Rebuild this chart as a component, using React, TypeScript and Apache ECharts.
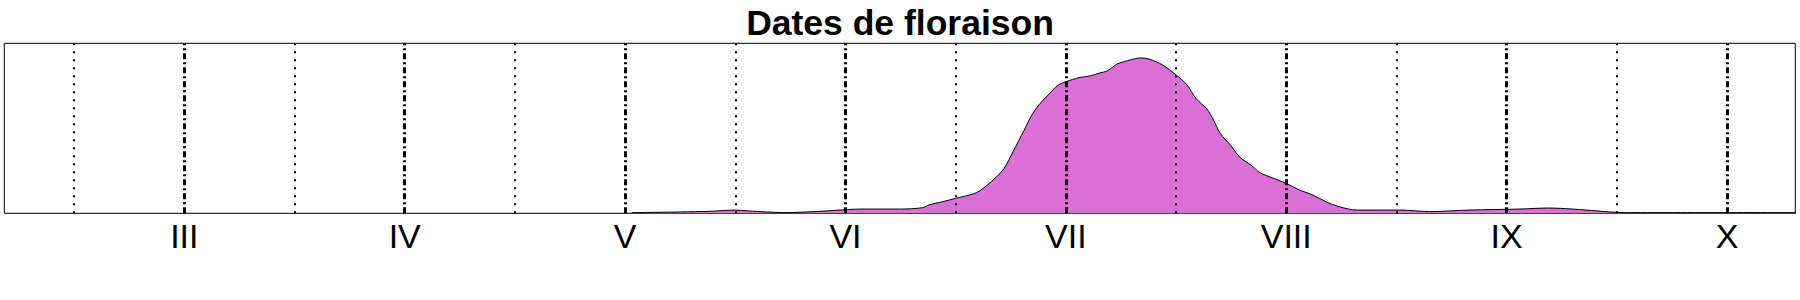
import React, { useEffect, useRef } from "react";
import * as echarts from "echarts";

// Month positions (months as continuous values, 3 = March ... 10 = October)
const monthTicks = [3, 4, 5, 6, 7, 8, 9, 10];
const monthLabels = ["III", "IV", "V", "VI", "VII", "VIII", "IX", "X"];
const halfMonthLines = [2.5, 3.5, 4.5, 5.5, 6.5, 7.5, 8.5, 9.5];

// Density curve of flowering dates (x in months, y relative density 0..100)
const dateX = [
  5.03, 5.25, 5.39, 5.5, 5.56, 5.64, 5.73, 5.82, 5.89, 5.96,
  6.07, 6.25, 6.35, 6.38, 6.44, 6.5, 6.58, 6.61, 6.67, 6.72,
  6.76, 6.81, 6.85, 6.89, 6.93, 6.96, 7.0, 7.06, 7.11, 7.15,
  7.19, 7.23, 7.28, 7.34, 7.38, 7.44, 7.5, 7.55, 7.59, 7.64,
  7.67, 7.7, 7.75, 7.79, 7.84, 7.88, 7.93, 8.0, 8.06, 8.12,
  8.18, 8.24, 8.32, 8.52, 8.65, 8.83, 9.06, 9.19, 9.3, 9.36,
  9.41, 9.47, 9.54, 10.31,
];
const density = [
  0.4, 0.8, 1.2, 1.9, 1.4, 0.8, 0.4, 0.8, 1.2, 1.8,
  2.5, 2.5, 3.3, 5.0, 6.8, 8.8, 11.4, 13.3, 19.6, 26.5,
  36.2, 48.7, 58.8, 65.6, 70.9, 74.9, 77.4, 79.8, 80.8, 82.4,
  83.9, 87.6, 89.8, 91.4, 90.6, 87.2, 81.4, 75.5, 67.6, 61.4,
  54.9, 47.1, 39.6, 32.9, 28.4, 23.9, 21.2, 17.6, 13.7, 10.8,
  6.8, 3.9, 1.9, 1.9, 1.0, 1.9, 2.5, 3.1, 2.5, 1.9,
  1.4, 0.8, 0.4, 0.4,
];

const xMin = 2.183;
const xMax = 10.31;

export default function App() {
  const ref = useRef<HTMLDivElement>(null);

  useEffect(() => {
    if (!ref.current) return;
    const chart = echarts.init(ref.current, undefined, { renderer: "svg" });
    const font = "'Liberation Sans', Arial, sans-serif";
    const seriesData = dateX.map((x, i) => [x, density[i]]);

    chart.setOption({
      animation: false,
      backgroundColor: "#ffffff",
      title: {
        text: "Dates de floraison",
        left: "center",
        top: 5,
        padding: 0,
        textStyle: {
          fontFamily: font,
          fontSize: 35.5,
          fontWeight: "bold",
          color: "#000000",
        },
      },
      grid: {
        left: 4.3,
        right: 4.7,
        top: 43.3,
        bottom: 86.7,
        show: true,
        borderColor: "#000000",
        borderWidth: 1,
        backgroundColor: "transparent",
      },
      xAxis: {
        type: "value",
        min: xMin,
        max: xMax,
        axisLine: { show: false },
        axisTick: { show: false },
        splitLine: { show: false },
        axisLabel: {
          customValues: monthTicks,
          formatter: (v: number) => {
            const idx = monthTicks.findIndex((m) => Math.abs(m - v) < 1e-6);
            return idx >= 0 ? monthLabels[idx] : "";
          },
          margin: 5.5,
          fontFamily: font,
          fontSize: 34,
          color: "#000000",
          showMinLabel: true,
          showMaxLabel: true,
        },
      },
      yAxis: {
        type: "value",
        min: 0,
        max: 100,
        show: false,
        splitLine: { show: false },
      },
      series: [
        {
          type: "line",
          data: [],
          z: 1,
          silent: true,
          markLine: {
            silent: true,
            symbol: ["none", "none"],
            label: { show: false },
            emphasis: { disabled: true },
            data: [
              ...halfMonthLines.map((v) => ({
                xAxis: v,
                lineStyle: { color: "#000000", type: [2, 6], width: 2 },
              })),
              ...monthTicks.map((v) => ({
                xAxis: v,
                lineStyle: { color: "#000000", type: [6, 3, 2, 3], width: 3 },
              })),
            ],
          },
        },
        {
          type: "line",
          data: seriesData,
          z: 2,
          symbol: "none",
          smooth: 0.3,
          silent: true,
          lineStyle: { color: "#000000", width: 1 },
          areaStyle: { color: "#DA70D6", opacity: 1 },
        },
      ],
    });

    return () => {
      chart.dispose();
    };
  }, []);

  return (
    <div
      ref={ref}
      style={{ position: "fixed", left: 0, top: 0, width: 1800, height: 300 }}
    />
  );
}
